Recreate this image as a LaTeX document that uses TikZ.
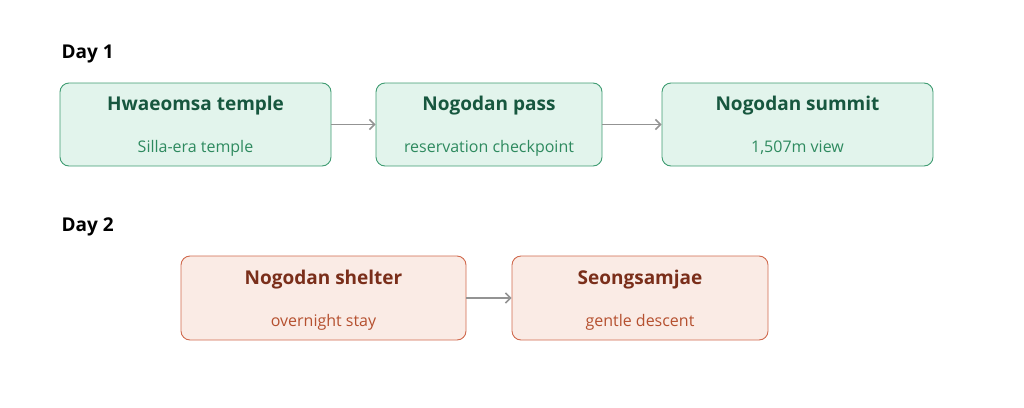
\documentclass[tikz,border=0pt]{standalone}
\usepackage{fontspec}
\setmainfont{Open Sans}
\usetikzlibrary{arrows.meta}
\definecolor{gfill}{HTML}{E2F4EC}\definecolor{gline}{HTML}{3F9C72}
\definecolor{gtitle}{HTML}{17573F}\definecolor{gsub}{HTML}{2E8A5F}
\definecolor{ofill}{HTML}{FAEBE5}\definecolor{oline}{HTML}{D0694D}
\definecolor{otitle}{HTML}{7A2E1A}\definecolor{osub}{HTML}{B5502F}
\begin{document}
\begin{tikzpicture}[x=1pt,y=-1pt,
 box/.style={draw,rounded corners=9pt,line width=0.9pt,inner sep=0pt},
 gbox/.style={box,fill=gfill,draw=gline},
 obox/.style={box,fill=ofill,draw=oline},
 ttl/.style={font=\fontsize{19}{22}\selectfont\bfseries},
 sub/.style={font=\fontsize{16}{19}\selectfont},
 arr/.style={draw=gray!85,line width=1.6pt,-{Straight Barb[length=5pt,width=10pt]}},
 day/.style={font=\fontsize{19}{22}\selectfont\bfseries,anchor=west}]
\useasboundingbox (0,0) rectangle (1024,407);
\node[day] (d1) at (58,54) {Day 1};
\node[day] (d2) at (58,227) {Day 2};
\node[gbox,minimum width=271,minimum height=83] (a) at (195.5,124.5) {};
\node[gbox,minimum width=226,minimum height=83] (b) at (489,124.5) {};
\node[gbox,minimum width=271,minimum height=83] (c) at (797.5,124.5) {};
\node[obox,minimum width=285,minimum height=84] (d) at (323.5,298) {};
\node[obox,minimum width=256,minimum height=84] (e) at (640,298) {};
\node[ttl,text=gtitle] (at) at (195.5,106) {Hwaeomsa temple};
\node[sub,text=gsub] (as) at (195.5,148) {Silla-era temple};
\node[ttl,text=gtitle] (bt) at (489,106) {Nogodan pass};
\node[sub,text=gsub] (bs) at (489,148) {reservation checkpoint};
\node[ttl,text=gtitle] (ct) at (797.5,106) {Nogodan summit};
\node[sub,text=gsub] (cs) at (797.5,148) {1,507m view};
\node[ttl,text=otitle] (dt) at (323.5,280) {Nogodan shelter};
\node[sub,text=osub] (ds) at (323.5,322) {overnight stay};
\node[ttl,text=otitle] (et) at (640,280) {Seongsamjae};
\node[sub,text=osub] (es) at (640,322) {gentle descent};
\draw[arr] (a) -- (b);
\draw[arr] (b) -- (c);
\draw[arr] (d) -- (e);
\end{tikzpicture}
\end{document}
